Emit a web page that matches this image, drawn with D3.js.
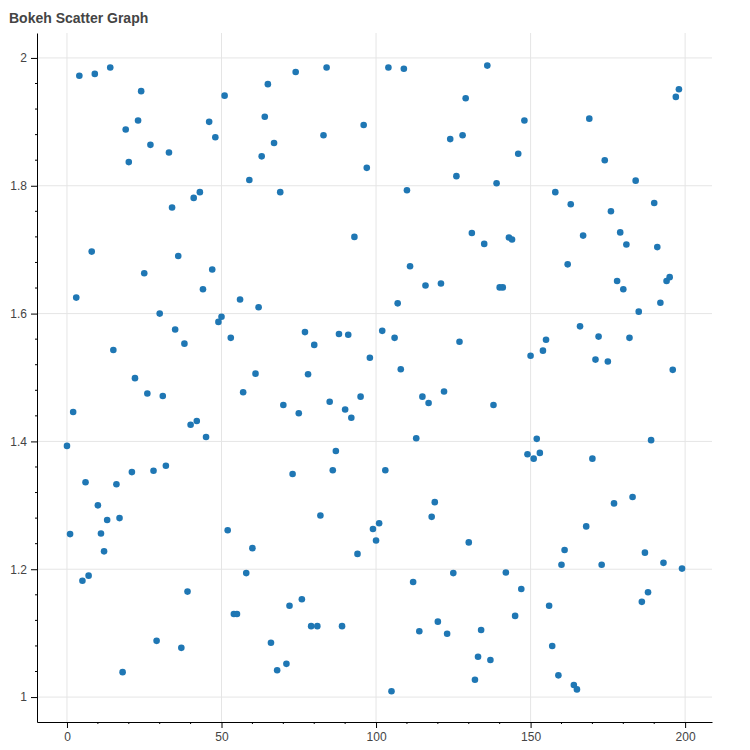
<!DOCTYPE html>
<html><head><meta charset="utf-8">
<script src="https://d3js.org/d3.v7.min.js"></script>
<style>body{margin:0;background:#fff}</style>
</head><body>
<svg id="c" width="750" height="750"></svg>
<script>
const title = "Bokeh Scatter Graph";
const yValues = [
1.393,1.255,1.446,1.625,1.972,1.182,1.336,1.19,1.697,1.975,
1.3,1.256,1.228,1.277,1.985,1.543,1.333,1.28,1.039,1.888,
1.837,1.352,1.499,1.902,1.948,1.663,1.475,1.864,1.354,1.088,
1.6,1.471,1.362,1.852,1.766,1.575,1.69,1.077,1.553,1.165,
1.426,1.781,1.432,1.79,1.638,1.407,1.9,1.669,1.876,1.587,
1.595,1.941,1.261,1.562,1.13,1.13,1.622,1.477,1.194,1.809,
1.233,1.506,1.61,1.846,1.908,1.959,1.085,1.867,1.042,1.79,
1.457,1.052,1.143,1.349,1.978,1.444,1.153,1.571,1.505,1.111,
1.551,1.111,1.284,1.879,1.985,1.462,1.355,1.385,1.568,1.111,
1.45,1.567,1.437,1.72,1.224,1.47,1.895,1.828,1.531,1.263,
1.245,1.272,1.573,1.355,1.985,1.009,1.562,1.616,1.513,1.983,
1.793,1.674,1.18,1.405,1.103,1.47,1.644,1.46,1.282,1.305,
1.118,1.647,1.478,1.099,1.873,1.194,1.815,1.556,1.879,1.937,
1.242,1.726,1.027,1.063,1.105,1.709,1.988,1.058,1.457,1.804,
1.641,1.641,1.195,1.719,1.716,1.127,1.85,1.169,1.902,1.38,
1.534,1.373,1.404,1.382,1.542,1.559,1.143,1.08,1.79,1.034,
1.207,1.23,1.677,1.771,1.019,1.012,1.58,1.722,1.267,1.905,
1.373,1.528,1.564,1.207,1.84,1.525,1.76,1.303,1.651,1.727,
1.638,1.708,1.562,1.313,1.808,1.603,1.149,1.226,1.164,1.402,
1.773,1.704,1.617,1.21,1.651,1.657,1.512,1.939,1.951,1.201];
const xValues = yValues.map((d,i)=>i);
const xTicks = [0,50,100,150,200];
const yTicks = [1,1.2,1.4,1.6,1.8,2];

const L=37,R=712,T=33,B=722;
const svg=d3.select("#c");
const x=d3.scaleLinear().domain([-9.7,208.7]).range([L,R]);
const y=d3.scaleLinear().domain([0.961,2.039]).range([B,T]);
const font="Helvetica, Arial, 'Liberation Sans', sans-serif";

svg.append("text").attr("x",9).attr("y",23).text(title)
  .style("font-family",font).style("font-size","14px").style("font-weight","bold").attr("fill","#444");

const g=svg.append("g");
g.selectAll(".gx").data(xTicks).join("line").attr("x1",d=>x(d)).attr("x2",d=>x(d))
  .attr("y1",T).attr("y2",B).attr("stroke","#e5e5e5");
g.selectAll(".gy").data(yTicks).join("line").attr("y1",d=>y(d)).attr("y2",d=>y(d))
  .attr("x1",L).attr("x2",R).attr("stroke","#e5e5e5");

svg.append("g").selectAll("circle").data(xValues).join("circle")
  .attr("cx",d=>x(d)).attr("cy",(d,i)=>y(yValues[i])).attr("r",3.3).attr("fill","#1f77b4");

const xa=svg.append("g").attr("transform",`translate(0,${B})`).call(d3.axisBottom(x).tickValues(xTicks).tickSizeInner(6).tickSizeOuter(0).tickPadding(4));
const ya=svg.append("g").attr("transform",`translate(${L},0)`).call(d3.axisLeft(y).tickValues(yTicks).tickFormat(d=>d===1||d===2?d3.format("d")(d):d3.format(".1f")(d)).tickSizeInner(6).tickSizeOuter(0).tickPadding(4));
[xa,ya].forEach(a=>{a.selectAll("text").style("font-family",font).style("font-size","12px").attr("fill","#444");
  a.selectAll("line,path").attr("stroke","#000");});
// minor ticks
svg.append("g").selectAll("line").data(d3.range(0,201,10).filter(v=>v%50)).join("line")
  .attr("x1",d=>x(d)).attr("x2",d=>x(d)).attr("y1",B).attr("y2",B+2).attr("stroke","#000");
svg.append("g").selectAll("line").data(d3.range(1,2.001,0.04).filter(v=>Math.abs(v*5-Math.round(v*5))>1e-6)).join("line")
  .attr("y1",d=>y(d)).attr("y2",d=>y(d)).attr("x1",L-2).attr("x2",L).attr("stroke","#000");
</script>
</body></html>
